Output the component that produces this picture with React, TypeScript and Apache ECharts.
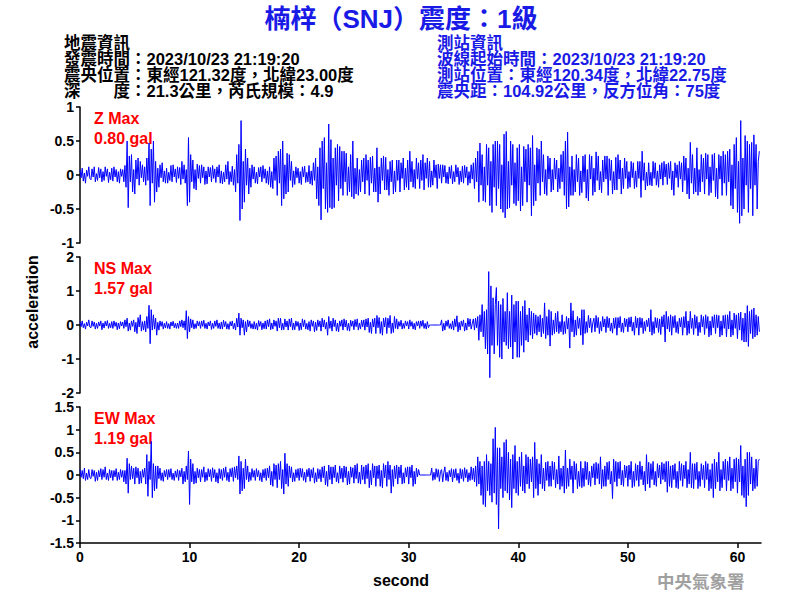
import React, { useEffect, useRef } from "react";
import * as echarts from "echarts";

// sampling step of the hand-read traces (seconds)
const SAMPLE_STEP = 0.1;
const X_MIN = 0;
const X_MAX = 62.15;
const X_TICK = 10;

// accelerations in centi-gal (value / 100 = gal), one row per second, 10 samples per row
const Z_CGAL = [
  8, -4, 10, -9, 3, -12, 7, -2, 12, -5,
  -7, 9, -3, 12, -10, 2, -8, 11, -4, 9,
  -10, 5, -8, 12, -2, 9, -11, 4, -7, 10,
  -9, 12, -3, 8, -10, 5, -12, 9, -2, 8,
  -10, 14, -18, 50, -48, 28, -10, 30, -25, 8,
  -28, 22, -6, 25, -15, 20, -4, 15, -10, 12,
  -15, 25, -8, 47, -45, 38, -12, 50, -40, 20,
  -25, 10, -18, 15, -4, 18, -10, 6, -12, 10,
  -12, 4, -8, 14, -10, 15, -3, 9, -11, 12,
  -5, 11, -14, 20, -6, 15, -12, 8, -45, 55,
  -40, 30, -10, 22, -20, 8, -22, 16, -5, 14,
  -12, 15, -4, 12, -14, 6, -13, 12, -3, 11,
  -10, 14, -5, 9, -11, 12, -3, 15, -12, 6,
  -13, 4, -10, 15, -6, 20, -14, 5, -10, 13,
  -15, 8, -25, 30, -12, 45, -67, 80, -50, 20,
  -40, 38, -15, 25, -28, 10, -18, 15, -6, 12,
  -12, 4, -13, 11, -3, 12, -10, 14, -5, 9,
  -12, 6, -14, 12, -18, 5, -20, 25, -8, 28,
  -30, 35, -12, 38, -45, 50, -35, 15, -28, 32,
  -25, 30, -8, 20, -18, 6, -14, 12, -4, 10,
  -12, 5, -14, 12, -3, 13, -11, 4, -10, 14,
  -13, 6, -15, 18, -8, 25, -35, 12, -45, 40,
  -66, 50, -20, 55, -50, 18, -55, 75, -48, 52,
  -50, 25, -48, 40, -15, 45, -38, 42, -20, 35,
  -30, 35, -10, 32, -30, 12, -25, 30, -32, 50,
  -35, 10, -28, 25, -30, 8, -25, 22, -10, 25,
  -28, 30, -8, 22, -30, 26, -12, 28, -25, 10,
  -25, 40, -40, 12, -28, 25, -8, 28, -22, 26,
  -22, 8, -30, 20, -10, 22, -28, 6, -25, 22,
  -8, 22, -25, 18, -5, 25, -22, 10, -18, 22,
  -22, 35, -10, 20, -18, 8, -20, 25, -6, 18,
  -20, 22, -8, 30, -22, 18, -5, 25, -18, 20,
  -18, 6, -15, 22, -4, 15, -20, 16, -5, 15,
  -12, 15, -3, 14, -12, 4, -13, 12, -5, 14,
  -13, 5, -10, 15, -3, 11, -14, 6, -10, 13,
  -12, 14, -4, 12, -15, 5, -12, 15, -6, 18,
  -20, 25, -10, 35, -40, 47, -15, 30, -38, 12,
  -40, 45, -15, 40, -45, 20, -55, 45, -18, 50,
  -45, 50, -20, 45, -50, 15, -55, 60, -63, 64,
  -50, 20, -48, 50, -15, 45, -42, 18, -45, 40,
  -38, 45, -53, 12, -45, 42, -10, 38, -40, 45,
  -15, 40, -60, 58, -45, 15, -38, 40, -12, 38,
  -30, 50, -10, 30, -28, 8, -30, 28, -6, 25,
  -25, 8, -22, 25, -6, 22, -25, 10, -20, 30,
  -10, 35, -30, 50, -50, 63, -47, 12, -30, 28,
  -30, 8, -25, 30, -10, 25, -30, 6, -26, 28,
  -10, 30, -34, 8, -38, 30, -6, 28, -30, 10,
  -25, 34, -8, 28, -22, 5, -26, 22, -10, 28,
  -6, 28, -30, 24, -8, 22, -28, 5, -22, 26,
  -22, 30, -6, 22, -28, 10, -20, 25, -5, 20,
  -20, 5, -18, 20, -4, 18, -20, 6, -18, 20,
  -5, 20, -33, 35, -8, 18, -22, 4, -16, 18,
  -15, 4, -16, 20, -5, 18, -15, 6, -18, 15,
  -6, 18, -15, 20, -3, 16, -14, 18, -5, 20,
  -22, 6, -30, 18, -4, 15, -18, 20, -6, 18,
  -25, 28, -8, 25, -28, 10, -35, 48, -12, 30,
  -28, 10, -25, 40, -30, 8, -25, 30, -10, 25,
  -28, 32, -6, 30, -30, 12, -26, 30, -8, 32,
  -32, 10, -35, 30, -6, 28, -30, 35, -12, 30,
  -30, 35, -10, 38, -45, 15, -50, 45, -20, 55,
  -55, 20, -71, 80, -60, 25, -50, 58, -15, 50,
  -55, 45, -20, 48, -60, 59, -15, 45, -50, 20,
  35,
];

const NS_CGAL = [
  10, -5, 12, -8, 4, -12, 8, -3, 15, -6,
  -8, 12, -4, 9, -12, 5, -10, 9, -3, 12,
  -14, 6, -9, 11, -3, 13, -10, 5, -8, 10,
  -10, 12, -4, 8, -14, 6, -11, 10, -3, 9,
  -10, 15, -5, 20, -18, 6, -15, 12, -4, 15,
  -20, 8, -25, 22, -6, 30, -18, 10, -15, 12,
  -20, 25, -10, 58, -55, 45, -15, 30, -12, 20,
  -30, 8, -15, 12, -4, 10, -12, 5, -9, 10,
  -10, 4, -12, 9, -3, 11, -8, 5, -10, 6,
  -10, 12, -5, 15, -8, 12, -15, 42, -40, 25,
  -20, 18, -8, 15, -12, 4, -10, 12, -3, 10,
  -10, 12, -4, 14, -10, 5, -12, 9, -3, 12,
  -13, 5, -10, 12, -4, 15, -10, 6, -12, 9,
  -12, 14, -5, 10, -12, 4, -13, 10, -3, 12,
  -12, 5, -15, 20, -6, 35, -30, 20, -8, 15,
  -30, 10, -20, 15, -5, 12, -10, 4, -12, 10,
  -12, 5, -15, 13, -4, 10, -14, 6, -11, 12,
  -12, 15, -5, 18, -14, 6, -12, 15, -4, 12,
  -18, 20, -8, 20, -15, 5, -14, 18, -6, 12,
  -15, 18, -5, 20, -15, 6, -14, 12, -4, 10,
  -16, 6, -14, 18, -5, 15, -12, 5, -14, 10,
  -18, 15, -4, 12, -20, 8, -16, 15, -5, 12,
  -18, 20, -6, 15, -12, 8, -30, 25, -10, 12,
  -18, 20, -5, 15, -18, 6, -20, 12, -4, 15,
  -15, 18, -6, 14, -16, 5, -18, 14, -4, 12,
  -14, 16, -5, 18, -15, 6, -12, 14, -5, 15,
  -15, 18, -6, 20, -22, 8, -25, 18, -6, 20,
  -25, 28, -8, 22, -25, 10, -30, 20, -6, 22,
  -25, 20, -8, 28, -25, 6, -22, 25, -10, 18,
  -12, 10, -4, 14, -12, 5, -10, 12, -3, 10,
  -12, 15, -4, 10, -12, 5, -14, 10, -3, 12,
  -10, 12, -4, 14, -10, 5, -12, 10, -8, 0,
  0, 0, 0, 0, 0, 0, 0, 0, 0, 0,
  15, -18, 5, -15, 12, -4, 15, -10, 4, -12,
  12, -15, 18, -5, 27, -20, 8, -15, 12, -4,
  15, -18, 6, -15, 20, -5, 18, -12, 4, 18,
  -15, 20, -8, 25, -45, 30, -20, 60, -35, 40,
  -70, 45, -85, 157, -155, 115, -60, 80, -85, 60,
  110, -60, 70, -95, 60, -100, 78, -50, 40, -60,
  95, -70, 40, -65, 88, -100, 60, -50, 70, -95,
  70, -95, 40, -60, 55, -80, 72, -45, 30, -50,
  50, -30, 40, -40, 35, -25, 30, -30, 25, -20,
  30, -35, 20, -25, 65, -40, 25, -30, 45, -62,
  40, -30, 15, -25, 35, -20, 40, -25, 10, -20,
  30, -28, 10, -25, 25, -12, 20, -68, 65, -20,
  42, -35, 15, -30, 25, -10, 20, -30, 45, -58,
  45, -25, 10, -22, 28, -8, 20, -22, 6, 20,
  -20, 28, -8, 22, -25, 10, -18, 25, -6, 18,
  -22, 25, -8, 20, -18, 6, -24, 20, -10, 22,
  -30, 22, -8, 25, -20, 6, -22, 20, -5, 18,
  -20, 22, -6, 24, -18, 8, -30, 25, -8, 20,
  -30, 22, -8, 20, -25, 10, -18, 15, -5, 20,
  -20, 45, -30, 10, -25, 22, -8, 20, -22, 18,
  -28, 25, -6, 30, -50, 40, -12, 25, -20, 30,
  -30, 25, -8, 28, -22, 10, -25, 20, -6, 22,
  -30, 25, -8, 40, -30, 12, -25, 40, -10, 20,
  -28, 30, -10, 25, -32, 8, -22, 30, -6, 25,
  -28, 30, -10, 25, -35, 12, -30, 25, -8, 30,
  -25, 30, -8, 28, -35, 12, -30, 28, -10, 30,
  -35, 30, -12, 40, -35, 15, -30, 35, -10, 30,
  -40, 35, -15, 38, -45, 20, -50, 35, -50, 57,
  -63, 40, -25, 45, -40, 50, -35, 30, -30, 25,
  -20,
];

const EW_CGAL = [
  12, -5, 10, -8, 15, -12, 4, -10, 12, -6,
  -8, 12, -3, 10, -14, 6, -12, 10, -4, 14,
  -10, 12, -5, 18, -10, 4, -12, 12, -6, 10,
  -12, 10, -4, 14, -12, 6, -10, 12, -5, 10,
  -15, 10, -20, 37, -40, 25, -10, 20, -8, 15,
  -20, 18, -6, 15, -20, 8, -18, 12, -5, 15,
  -20, 45, -47, 30, -10, 74, -50, 25, -35, 20,
  -30, 20, -8, 15, -12, 5, -14, 10, -4, 12,
  -10, 12, -5, 14, -10, 4, -12, 9, -5, 12,
  -12, 10, -4, 15, -20, 8, -15, 20, -10, 53,
  -65, 35, -15, 25, -20, 8, -18, 15, -6, 12,
  -15, 12, -5, 18, -15, 6, -12, 14, -4, 12,
  -14, 16, -6, 12, -15, 5, -18, 14, -8, 12,
  -12, 15, -5, 18, -12, 6, -15, 14, -4, 16,
  -14, 18, -6, 20, -10, 42, -42, 30, -35, 15,
  -30, 35, -10, 20, -15, 6, -12, 14, -5, 10,
  -12, 14, -4, 10, -12, 5, -15, 12, -6, 14,
  -12, 15, -6, 20, -22, 8, -25, 25, -10, 22,
  -28, 25, -10, 30, -30, 12, -42, 48, -20, 25,
  -25, 20, -6, 18, -15, 5, -14, 12, -6, 14,
  -12, 15, -5, 14, -12, 6, -16, 12, -4, 15,
  -14, 12, -6, 16, -18, 5, -15, 14, -8, 12,
  -15, 18, -6, 20, -22, 8, -25, 22, -10, 18,
  -20, 18, -6, 22, -15, 5, -18, 20, -8, 15,
  -16, 20, -6, 18, -22, 8, -20, 18, -5, 16,
  -18, 22, -8, 25, -18, 6, -20, 22, -10, 18,
  -20, 22, -8, 25, -28, 10, -22, 25, -6, 20,
  -25, 20, -8, 22, -25, 10, -28, 25, -6, 22,
  -25, 30, -10, 22, -40, 12, -25, 20, -8, 22,
  -20, 18, -6, 22, -20, 5, -18, 16, -4, 18,
  -20, 18, -6, 22, -25, 8, -20, 15, -4, 12,
  0, 0, 0, 0, 0, 0, 0, 0, 0, 0,
  0, 15, -12, 6, -10, 14, -5, 12, -14, 8,
  12, -15, 5, 18, -12, 6, -14, 10, -4, 14,
  -15, 12, -6, 14, -12, 4, -18, 14, -8, 12,
  -14, 16, -6, 12, -15, 5, -12, 18, -10, 15,
  -15, 20, -25, 40, -20, 30, -45, 20, -65, 30,
  -70, 45, -35, 30, -45, 25, -60, 80, -40, 105,
  -65, 60, -119, 60, -30, 40, -50, 72, -35, 78,
  -40, 50, -55, 35, -72, 45, -30, 65, -40, 30,
  -45, 40, -25, 50, -35, 20, -40, 45, -20, 40,
  -30, 35, -15, 40, -50, 72, -30, 35, -45, 25,
  -20, 45, -30, 15, -35, 28, -12, 30, -25, 20,
  -25, 30, -10, 28, -28, 12, -20, 42, -32, 15,
  -25, 20, -40, 55, -30, 15, -25, 35, -10, 20,
  -40, 30, -10, 25, -30, 8, -25, 30, -28, 15,
  -25, 30, -10, 28, -22, 8, -25, 20, -6, 25,
  -22, 28, -8, 25, -20, 40, -30, 12, -25, 20,
  -25, 28, -10, 30, -20, 8, -52, 35, -15, 30,
  -25, 28, -8, 30, -22, 10, -25, 22, -6, 20,
  -25, 22, -10, 30, -28, 8, -25, 25, -12, 22,
  -25, 30, -10, 20, -22, 8, -35, 45, -20, 28,
  -28, 25, -10, 30, -22, 8, -25, 25, -6, 22,
  -20, 28, -10, 25, -15, 30, -38, 30, -25, 20,
  -28, 22, -10, 25, -28, 8, -30, 30, -12, 25,
  -25, 22, -8, 30, -28, 12, -20, 50, -28, 25,
  -30, 25, -10, 28, -30, 8, -25, 25, -10, 22,
  -28, 30, -10, 25, -35, 12, -30, 25, -50, 35,
  -30, 28, -15, 50, -35, 12, -28, 30, -10, 35,
  -35, 30, -12, 40, -35, 15, -30, 35, -15, 38,
  -40, 35, -15, 65, -45, 20, -50, 35, -70, 50,
  -45, 50, -20, 40, -35, 15, -30, 35, -25, 30,
  35,
];

const PANEL_NAMES = ["Z Max", "NS Max", "EW Max"];
const PANEL_PEAKS = ["0.80 gal", "1.57 gal", "1.19 gal"];
const PANEL_Y_MIN = [-1, -2, -1.5];
const PANEL_Y_MAX = [1, 2, 1.5];
const PANEL_Y_STEP = [0.5, 1, 0.5];
const TRACES = [Z_CGAL, NS_CGAL, EW_CGAL];

const TITLE = "楠梓（SNJ）震度：1級";
const QUAKE_INFO = [
  "地震資訊",
  "發震時間：2023/10/23 21:19:20",
  "震央位置：東經121.32度，北緯23.00度",
  "深　　度：21.3公里，芮氏規模：4.9",
];
const STATION_INFO = [
  "測站資訊",
  "波線起始時間：2023/10/23 21:19:20",
  "測站位置：東經120.34度，北緯22.75度",
  "震央距：104.92公里，反方位角：75度",
];
const Y_NAME = "acceleration";
const X_NAME = "second";
const AGENCY = "中央氣象署";

const FONT = "'Liberation Sans', Arial, 'Noto Sans CJK TC', sans-serif";
const BLUE = "#1a1ae6";
const TRACE_BLUE = "#0000ff";

export default function App() {
  const ref = useRef<HTMLDivElement>(null);

  useEffect(() => {
    if (!ref.current) return;
    const chart = echarts.init(ref.current, undefined, { renderer: "svg" });

    const GRID_LEFT = 80;
    const GRID_WIDTH = 681;
    const GRID_TOPS = [107, 257, 407];
    const GRID_H = 136;

    const grids = GRID_TOPS.map((top) => ({
      left: GRID_LEFT,
      top,
      width: GRID_WIDTH,
      height: GRID_H,
      containLabel: false,
    }));

    const xAxes = GRID_TOPS.map((_, i) => {
      const last = i === GRID_TOPS.length - 1;
      return {
        type: "value",
        gridIndex: i,
        min: X_MIN,
        max: X_MAX,
        interval: X_TICK,
        show: last,
        axisLine: { show: last, onZero: false, lineStyle: { color: "#000", width: 1.5 } },
        axisTick: { show: last, length: 5, lineStyle: { color: "#000", width: 1.5 } },
        axisLabel: {
          show: last,
          color: "#000",
          fontSize: 14,
          fontWeight: "bold",
          fontFamily: FONT,
          margin: 7,
          showMaxLabel: false,
        },
        splitLine: { show: false },
      };
    });

    const yAxes = GRID_TOPS.map((_, i) => ({
      type: "value",
      gridIndex: i,
      min: PANEL_Y_MIN[i],
      max: PANEL_Y_MAX[i],
      interval: PANEL_Y_STEP[i],
      axisLine: { show: true, lineStyle: { color: "#000", width: 1.5 } },
      axisTick: { show: true, length: 4, lineStyle: { color: "#000", width: 1.5 } },
      axisLabel: {
        color: "#000",
        fontSize: 14,
        lineHeight: 13,
        fontWeight: "bold",
        fontFamily: FONT,
        margin: 6,
      },
      splitLine: { show: false },
    }));

    const series = TRACES.map((trace, i) => ({
      type: "line",
      xAxisIndex: i,
      yAxisIndex: i,
      showSymbol: false,
      symbol: "none",
      lineStyle: { color: TRACE_BLUE, width: 1 },
      data: trace.map((v, k) => [k * SAMPLE_STEP, v / 100]),
    }));

    const graphics: any[] = [];
    graphics.push({
      type: "text",
      x: 401,
      y: 19,
      style: {
        text: TITLE,
        fill: BLUE,
        font: `bold 26px ${FONT}`,
        textAlign: "center",
        textVerticalAlign: "middle",
      },
    });
    const infoFont = `bold 16.5px ${FONT}`;
    QUAKE_INFO.forEach((t, k) => {
      graphics.push({
        type: "text",
        x: 64,
        y: 43 + k * 16,
        style: { text: t, fill: "#000", font: infoFont, textAlign: "left", textVerticalAlign: "middle" },
      });
    });
    STATION_INFO.forEach((t, k) => {
      graphics.push({
        type: "text",
        x: 437,
        y: 43 + k * 16,
        style: { text: t, fill: BLUE, font: infoFont, textAlign: "left", textVerticalAlign: "middle" },
      });
    });
    GRID_TOPS.forEach((top, i) => {
      graphics.push({
        type: "text",
        x: 94,
        y: top + 11,
        style: {
          text: PANEL_NAMES[i],
          fill: "#ff0000",
          font: `bold 16px ${FONT}`,
          textAlign: "left",
          textVerticalAlign: "middle",
        },
      });
      graphics.push({
        type: "text",
        x: 94,
        y: top + 31,
        style: {
          text: PANEL_PEAKS[i],
          fill: "#ff0000",
          font: `bold 16px ${FONT}`,
          textAlign: "left",
          textVerticalAlign: "middle",
        },
      });
    });
    graphics.push({
      type: "text",
      x: 32,
      y: 302,
      rotation: Math.PI / 2,
      style: {
        text: Y_NAME,
        fill: "#000",
        font: `bold 16px ${FONT}`,
        textAlign: "center",
        textVerticalAlign: "middle",
      },
    });
    graphics.push({
      type: "text",
      x: 401,
      y: 580,
      style: {
        text: X_NAME,
        fill: "#000",
        font: `bold 16px ${FONT}`,
        textAlign: "center",
        textVerticalAlign: "middle",
      },
    });
    graphics.push({
      type: "text",
      x: 657,
      y: 580,
      style: {
        text: AGENCY,
        fill: "#a0a0a0",
        font: `bold 17.5px 'Noto Sans CJK TC', sans-serif`,
        textAlign: "left",
        textVerticalAlign: "middle",
      },
    });

    chart.setOption({
      animation: false,
      backgroundColor: "#ffffff",
      grid: grids,
      xAxis: xAxes,
      yAxis: yAxes,
      series,
      graphic: graphics,
    });

    return () => chart.dispose();
  }, []);

  return (
    <div
      ref={ref}
      style={{ position: "fixed", left: 0, top: 0, width: 800, height: 600, background: "#fff" }}
    />
  );
}
